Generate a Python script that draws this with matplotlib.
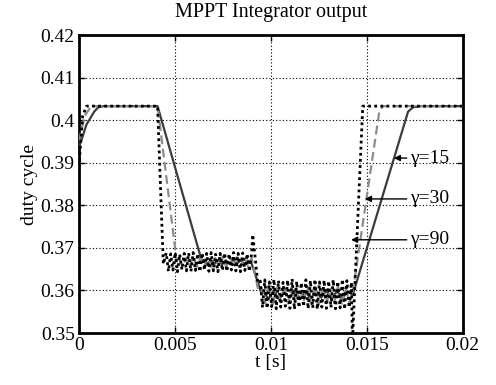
import numpy as np
import matplotlib
matplotlib.use('Agg')
import matplotlib.pyplot as plt

SERIF = ['Liberation Serif', 'DejaVu Serif']
plt.rcParams['font.family'] = SERIF

# ---- data ----
xticks = [0, 0.005, 0.01, 0.015, 0.02]
xtick_labels = ['0', '0.005', '0.01', '0.015', '0.02']
yticks = [0.35, 0.36, 0.37, 0.38, 0.39, 0.40, 0.41, 0.42]
ytick_labels = ['0.35', '0.36', '0.37', '0.38', '0.39', '0.4', '0.41', '0.42']

# gamma = 90 (dotted black)
g90_t_a = [0.0, 0.0001, 0.0002, 0.0004, 0.0041, 0.0044]
g90_y_a = [0.3890, 0.3950, 0.4010, 0.4033, 0.4033, 0.3662]
g90_band1 = [0.3688, 0.3645, 0.3686, 0.3648, 0.3689, 0.3644, 0.3685, 0.3649,
             0.3687, 0.3646, 0.3688, 0.3645, 0.3689, 0.3647, 0.3686, 0.3644,
             0.3688, 0.3648, 0.3687, 0.3645, 0.3689, 0.3646, 0.3685, 0.3644,
             0.3687, 0.3647, 0.3688, 0.3645, 0.3686, 0.3648, 0.3689, 0.3646,
             0.3687, 0.3644, 0.3688, 0.3647, 0.3686, 0.3645, 0.3688]
g90_t_b = [0.00906, 0.00932]
g90_y_b = [0.3731, 0.3618]
g90_band2 = [0.3622, 0.3560, 0.3625, 0.3558, 0.3620, 0.3562, 0.3626, 0.3557,
             0.3623, 0.3561, 0.3619, 0.3563, 0.3624, 0.3558, 0.3627, 0.3556,
             0.3621, 0.3560, 0.3618, 0.3562, 0.3625, 0.3557, 0.3623, 0.3559,
             0.3626, 0.3556, 0.3620, 0.3561, 0.3624, 0.3558, 0.3622, 0.3560,
             0.3625, 0.3557, 0.3621, 0.3559, 0.3626, 0.3556, 0.3623, 0.3560,
             0.3619]
g90_t_c = [0.01425, 0.01479, 0.0200]
g90_y_c = [0.3480, 0.4033, 0.4033]

# gamma = 30 (dashed gray)
g30_t_a = [0.0, 0.0003, 0.0006, 0.0008, 0.0041, 0.0051]
g30_y_a = [0.3950, 0.4010, 0.4030, 0.4033, 0.4033, 0.3668]
g30_band1 = [0.3678, 0.3656, 0.3676, 0.3658, 0.3679, 0.3655, 0.3677, 0.3657,
             0.3678, 0.3656, 0.3676, 0.3658, 0.3679, 0.3656, 0.3677, 0.3657,
             0.3678, 0.3655, 0.3677, 0.3657, 0.3676]
g30_t_b = [0.00935]
g30_y_b = [0.3600]
g30_band2 = [0.3608, 0.3570, 0.3611, 0.3568, 0.3606, 0.3572, 0.3612, 0.3569,
             0.3609, 0.3571, 0.3605, 0.3573, 0.3610, 0.3568, 0.3612, 0.3567,
             0.3607, 0.3571, 0.3604, 0.3572, 0.3610, 0.3569, 0.3608, 0.3570,
             0.3606]
g30_t_c = [0.01565, 0.01585, 0.0200]
g30_y_c = [0.4020, 0.4033, 0.4033]

# gamma = 15 (solid dark gray)
g15_t_a = [0.0, 0.0004, 0.0008, 0.0010, 0.0013, 0.0041, 0.0064]
g15_y_a = [0.3935, 0.3990, 0.4020, 0.4030, 0.4033, 0.4033, 0.3670]
g15_band1 = [0.3672, 0.3662, 0.3671, 0.3663, 0.3672, 0.3661, 0.3671, 0.3662,
             0.3672, 0.3663, 0.3671, 0.3662, 0.3670, 0.3663]
g15_t_b = [0.0095]
g15_y_b = [0.3595]
g15_band2 = [0.3598, 0.3580, 0.3600, 0.3579, 0.3597, 0.3582, 0.3601, 0.3580,
             0.3598, 0.3581, 0.3596, 0.3583, 0.3600, 0.3579, 0.3599, 0.3581,
             0.3597, 0.3590]
g15_t_c = [0.01715, 0.01740, 0.01780, 0.0200]
g15_y_c = [0.4020, 0.4030, 0.4033, 0.4033]

# annotations: label, arrow tip (t, y)
labels = ['γ=15', 'γ=30', 'γ=90']
tips_t = [0.01641, 0.01490, 0.01418]
tips_y = [0.3911, 0.3815, 0.3719]


def build(ta, ya, band1, t1, tb, yb, band2, t2, tc, yc):
    t = list(ta) + list(np.linspace(t1[0], t1[1], len(band1))) + list(tb) \
        + list(np.linspace(t2[0], t2[1], len(band2))) + list(tc)
    y = list(ya) + list(band1) + list(yb) + list(band2) + list(yc)
    return np.array(t), np.array(y)


t90, y90 = build(g90_t_a, g90_y_a, g90_band1, (0.00455, 0.0090),
                 g90_t_b, g90_y_b, g90_band2, (0.00945, 0.01420),
                 g90_t_c, g90_y_c)
t30, y30 = build(g30_t_a, g30_y_a, g30_band1, (0.0052, 0.0090),
                 g30_t_b, g30_y_b, g30_band2, (0.0095, 0.01430),
                 g30_t_c, g30_y_c)
t15, y15 = build(g15_t_a, g15_y_a, g15_band1, (0.0065, 0.0090),
                 g15_t_b, g15_y_b, g15_band2, (0.0096, 0.01427),
                 g15_t_c, g15_y_c)

fig = plt.figure(figsize=(4.96, 3.85), dpi=100)
ax = fig.add_axes([0.159, 0.135, 0.774, 0.774])

ax.plot(t15, y15, color='#3c3c3c', lw=1.6, ls='-', zorder=3)
ax.plot(t30, y30, color='#8c8c8c', lw=1.6, ls=(0, (4, 2)), zorder=3)
ax.plot(t90, y90, color='black', lw=2.0, ls=(0, (1, 1.2)), zorder=4)

tail_t = 0.01708
for lab, tt, ty in zip(labels, tips_t, tips_y):
    ax.annotate('', xy=(tt, ty), xytext=(tail_t, ty),
                arrowprops=dict(arrowstyle='-|>', color='black', lw=1.0,
                                mutation_scale=9, shrinkA=0, shrinkB=0),
                zorder=5)
    ax.text(tail_t + 0.00018, ty, lab, fontsize=14, ha='left', va='center',
            family=SERIF, zorder=5)

ax.set_xlim(0, 0.02)
ax.set_ylim(0.35, 0.42)
ax.set_xticks(xticks)
ax.set_xticklabels(xtick_labels, fontfamily=SERIF, fontsize=14)
ax.set_yticks(yticks)
ax.set_yticklabels(ytick_labels, fontfamily=SERIF, fontsize=14)
ax.tick_params(direction='in', top=True, right=True, length=4, width=1,
               pad=3)
ax.grid(True, color='black', ls=(0, (1, 2)), lw=0.8)
for s in ax.spines.values():
    s.set_linewidth(2)

ax.set_title('MPPT Integrator output', fontsize=14.5, pad=13, family=SERIF)
ax.set_xlabel('t [s]', fontsize=14, labelpad=0, family=SERIF)
ax.set_ylabel('duty cycle', fontsize=14, labelpad=2, family=SERIF)

fig.savefig('out.png', dpi=100)
